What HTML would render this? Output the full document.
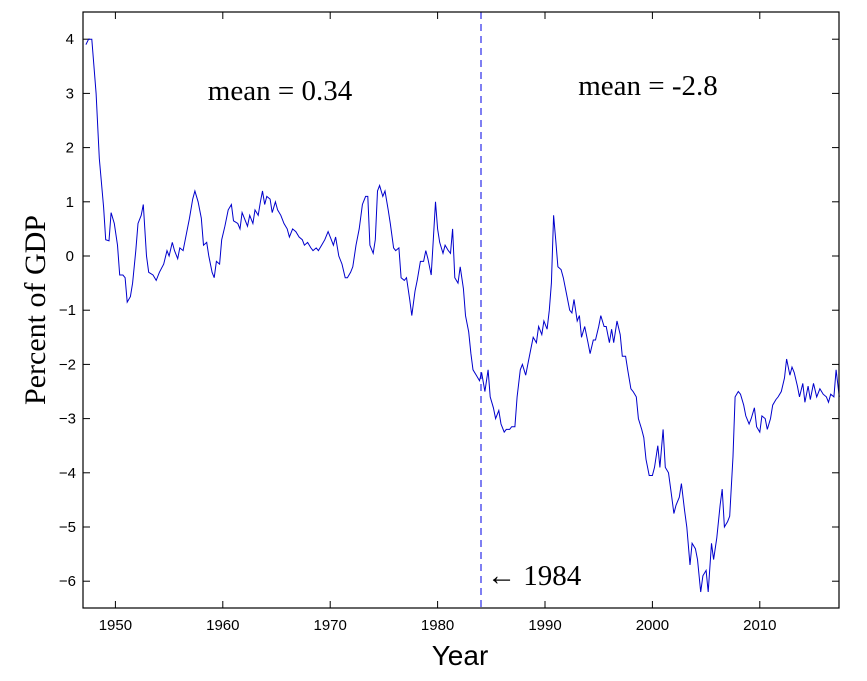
<!DOCTYPE html>
<html><head><meta charset="utf-8"><style>
html,body{margin:0;padding:0;background:#fff;}
svg{display:block;}
</style></head><body>
<svg id="s" width="867" height="681" xmlns="http://www.w3.org/2000/svg" font-family="Liberation Sans, sans-serif">
<rect x="0" y="0" width="867" height="681" fill="#fff"/>
<g id="ticks" stroke="#000" stroke-width="1"></g>
<g id="labels" font-size="15" fill="#000"></g>
<line x1="481" y1="12" x2="481" y2="608" stroke="#5555ee" stroke-width="1.5" stroke-dasharray="7,5"/>
<polyline id="p" fill="none" stroke="#0000cc" stroke-width="1"/>
<rect x="83" y="12" width="756" height="596" fill="none" stroke="#000" stroke-width="1.2"/>
<text x="280" y="100" font-family="Liberation Serif, serif" font-size="29" text-anchor="middle">mean = 0.34</text>
<text x="648" y="95" font-family="Liberation Serif, serif" font-size="29" text-anchor="middle">mean = -2.8</text>
<text x="487" y="585" font-family="Liberation Serif, serif" font-size="29">← 1984</text>
<text x="460" y="665" font-size="28" text-anchor="middle">Year</text>
<text transform="translate(45,310) rotate(-90)" font-family="Liberation Serif, serif" font-size="30" text-anchor="middle">Percent of GDP</text>
</svg>
<script>
var X=function(y){return 115.4+(y-1950)*10.74;}, Y=function(v){return 256-v*54.2;};
var t=document.getElementById('ticks'),l=document.getElementById('labels'),h='';
var lh='';
for(var yr=1950;yr<=2010;yr+=10){var x=X(yr);h+='<line x1="'+x+'" y1="608" x2="'+x+'" y2="601"/><line x1="'+x+'" y1="12" x2="'+x+'" y2="19"/>';lh+='<text x="'+x+'" y="630" text-anchor="middle">'+yr+'</text>';}
for(var v=-6;v<=4;v++){var y=Y(v);h+='<line x1="83" y1="'+y+'" x2="90" y2="'+y+'"/><line x1="839" y1="'+y+'" x2="832" y2="'+y+'"/>';lh+='<text x="'+(v<0?76:74)+'" y="'+(y+5)+'" text-anchor="end">'+(v<0?'\u2212'+(-v):v)+'</text>';}
t.innerHTML=h;l.innerHTML=lh;
var d=[1947.25,3.9,1947.5,4.0,1947.8,4.0,1948.2,3.0,1948.5,1.8,1948.9,0.9,1949.1,0.3,1949.4,0.28,1949.6,0.8,1949.9,0.6,1950.2,0.2,1950.4,-0.35,1950.7,-0.35,1950.9,-0.4,1951.1,-0.85,1951.4,-0.75,1951.6,-0.5,1951.9,0.1,1952.1,0.6,1952.4,0.75,1952.6,0.95,1952.9,0.0,1953.1,-0.3,1953.5,-0.35,1953.8,-0.45,1954.1,-0.3,1954.5,-0.15,1954.8,0.1,1955,0.0,1955.3,0.25,1955.5,0.1,1955.8,-0.05,1956,0.15,1956.3,0.1,1956.6,0.4,1956.9,0.7,1957.2,1.05,1957.4,1.2,1957.7,1.0,1958,0.7,1958.2,0.2,1958.5,0.25,1958.7,0.0,1959,-0.3,1959.2,-0.4,1959.4,-0.1,1959.7,-0.15,1959.9,0.3,1960.2,0.55,1960.5,0.85,1960.8,0.95,1961,0.65,1961.4,0.6,1961.6,0.5,1961.8,0.8,1962,0.7,1962.3,0.55,1962.5,0.75,1962.8,0.6,1963,0.85,1963.3,0.75,1963.5,1.0,1963.7,1.2,1963.9,0.95,1964.1,1.1,1964.4,1.05,1964.6,0.8,1964.9,1.0,1965.1,0.85,1965.4,0.75,1965.7,0.6,1966,0.5,1966.2,0.35,1966.5,0.5,1966.8,0.45,1967.1,0.35,1967.4,0.3,1967.6,0.2,1967.9,0.25,1968.2,0.15,1968.4,0.1,1968.7,0.15,1968.9,0.1,1969.2,0.2,1969.5,0.3,1969.8,0.45,1970.1,0.3,1970.3,0.2,1970.5,0.35,1970.8,0.0,1971.1,-0.15,1971.4,-0.4,1971.6,-0.4,1971.9,-0.3,1972.1,-0.2,1972.4,0.2,1972.7,0.5,1973,0.95,1973.3,1.1,1973.5,1.1,1973.7,0.2,1974,0.05,1974.2,0.3,1974.4,1.2,1974.6,1.3,1974.9,1.1,1975.1,1.2,1975.4,0.85,1975.6,0.6,1975.9,0.15,1976.1,0.1,1976.4,0.15,1976.6,-0.4,1976.9,-0.45,1977.1,-0.4,1977.4,-0.8,1977.6,-1.1,1977.9,-0.65,1978.1,-0.45,1978.4,-0.1,1978.7,-0.1,1978.9,0.1,1979.1,-0.05,1979.4,-0.35,1979.6,0.3,1979.8,1.0,1980,0.5,1980.2,0.25,1980.5,0.05,1980.7,0.2,1981,0.1,1981.2,0.05,1981.4,0.5,1981.6,-0.4,1981.9,-0.5,1982.1,-0.2,1982.4,-0.6,1982.6,-1.1,1982.9,-1.4,1983.1,-1.8,1983.3,-2.1,1983.6,-2.2,1983.9,-2.3,1984.1,-2.15,1984.4,-2.5,1984.7,-2.1,1984.9,-2.6,1985.2,-2.8,1985.4,-3.0,1985.7,-2.85,1985.9,-3.1,1986.2,-3.25,1986.4,-3.2,1986.7,-3.2,1986.9,-3.15,1987.2,-3.15,1987.4,-2.6,1987.7,-2.1,1987.9,-2.0,1988.2,-2.2,1988.4,-2.0,1988.7,-1.7,1988.9,-1.5,1989.2,-1.6,1989.4,-1.3,1989.7,-1.45,1989.9,-1.2,1990.2,-1.35,1990.4,-1.0,1990.6,-0.5,1990.8,0.75,1991,0.3,1991.2,-0.2,1991.5,-0.25,1991.7,-0.4,1992,-0.7,1992.3,-1.0,1992.5,-1.05,1992.7,-0.8,1993,-1.2,1993.2,-1.1,1993.4,-1.5,1993.7,-1.3,1994,-1.6,1994.2,-1.8,1994.5,-1.55,1994.7,-1.55,1995,-1.3,1995.2,-1.1,1995.5,-1.3,1995.7,-1.3,1996,-1.6,1996.2,-1.35,1996.4,-1.6,1996.7,-1.2,1997,-1.45,1997.2,-1.85,1997.5,-1.85,1997.7,-2.1,1998,-2.45,1998.2,-2.5,1998.5,-2.6,1998.7,-3.0,1999,-3.2,1999.2,-3.35,1999.4,-3.75,1999.7,-4.05,2000,-4.05,2000.2,-3.9,2000.5,-3.5,2000.7,-3.9,2001,-3.2,2001.2,-3.9,2001.5,-4.0,2001.7,-4.3,2002,-4.75,2002.2,-4.6,2002.5,-4.45,2002.7,-4.2,2003,-4.7,2003.2,-5.0,2003.5,-5.7,2003.7,-5.3,2004,-5.4,2004.2,-5.6,2004.5,-6.2,2004.7,-5.9,2005,-5.8,2005.2,-6.2,2005.5,-5.3,2005.7,-5.6,2006,-5.2,2006.3,-4.6,2006.5,-4.3,2006.7,-5.0,2007,-4.9,2007.2,-4.8,2007.5,-3.7,2007.7,-2.6,2008,-2.5,2008.2,-2.55,2008.5,-2.75,2008.7,-2.95,2009,-3.1,2009.2,-3.0,2009.5,-2.8,2009.7,-3.15,2010,-3.25,2010.2,-2.95,2010.5,-3.0,2010.7,-3.2,2011,-3.0,2011.2,-2.75,2011.5,-2.65,2011.7,-2.6,2012,-2.5,2012.3,-2.25,2012.5,-1.9,2012.8,-2.2,2013,-2.05,2013.2,-2.15,2013.5,-2.4,2013.7,-2.6,2014,-2.35,2014.2,-2.7,2014.5,-2.4,2014.7,-2.65,2015,-2.35,2015.3,-2.6,2015.6,-2.45,2015.9,-2.55,2016.2,-2.6,2016.4,-2.7,2016.6,-2.55,2016.9,-2.6,2017.1,-2.1,2017.4,-2.6];
var pts='';for(var i=0;i<d.length;i+=2){pts+=X(d[i]).toFixed(1)+','+Y(d[i+1]).toFixed(1)+' ';}
document.getElementById('p').setAttribute('points',pts);
</script>
</body></html>
